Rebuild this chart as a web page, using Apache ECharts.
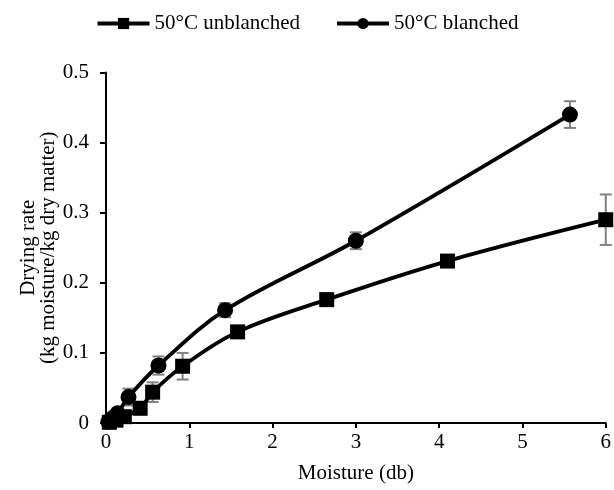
<!DOCTYPE html>
<html>
<head>
<meta charset="utf-8">
<script src="https://cdn.jsdelivr.net/npm/echarts@6/dist/echarts.min.js"></script>
<style>html,body{margin:0;padding:0;background:#fff}#c{width:614px;height:490px}</style>
</head>
<body>
<div id="c"></div>
<script>
var seriesNames = ['50°C unblanched', '50°C blanched'];
var unblX = [0.04, 0.12, 0.22, 0.41, 0.56, 0.92, 1.58, 2.65, 4.10, 6.00];
var unblY = [0.001, 0.004, 0.009, 0.021, 0.044, 0.081, 0.130, 0.176, 0.231, 0.290];
var unblErr = [0.001, 0.001, 0.002, 0.004, 0.014, 0.019, 0.004, 0.003, 0.004, 0.036];
var blX = [0.03, 0.08, 0.14, 0.27, 0.63, 1.43, 3.00, 5.57];
var blY = [0.002, 0.007, 0.014, 0.037, 0.082, 0.161, 0.260, 0.440];
var blErr = [0.001, 0.002, 0.002, 0.012, 0.013, 0.010, 0.012, 0.019];
var xTicks = [0, 1, 2, 3, 4, 5, 6];
var yTicks = [0, 0.1, 0.2, 0.3, 0.4, 0.5];

function pairs(xs, ys) { return xs.map(function (x, i) { return [x, ys[i]]; }); }
function errData(xs, ys, es) { return xs.map(function (x, i) { return [x, ys[i] - es[i], ys[i] + es[i]]; }); }

function errRender(params, api) {
  var x = api.value(0);
  var lo = api.coord([x, api.value(1)]);
  var hi = api.coord([x, api.value(2)]);
  var w = 6;
  var st = { stroke: '#808080', lineWidth: 2 };
  return {
    type: 'group',
    children: [
      { type: 'line', shape: { x1: lo[0], y1: lo[1], x2: hi[0], y2: hi[1] }, style: st },
      { type: 'line', shape: { x1: lo[0] - w, y1: lo[1], x2: lo[0] + w, y2: lo[1] }, style: st },
      { type: 'line', shape: { x1: hi[0] - w, y1: hi[1], x2: hi[0] + w, y2: hi[1] }, style: st }
    ]
  };
}

var font = 'Liberation Serif';
var chart = echarts.init(document.getElementById('c'));
chart.setOption({
  animation: false,
  legend: {
    data: seriesNames,
    top: 8,
    left: 'center',
    itemWidth: 52,
    itemHeight: 14,
    itemGap: 35,
    lineStyle: { width: 4, color: '#000' },
    textStyle: { fontFamily: font, fontSize: 21, color: '#000' }
  },
  grid: { left: 106, right: 7, top: 72.5, bottom: 67, containLabel: false },
  xAxis: {
    type: 'value', min: xTicks[0], max: xTicks[xTicks.length - 1], interval: 1,
    name: 'Moisture (db)', nameLocation: 'middle', nameGap: 40,
    nameTextStyle: { fontFamily: font, fontSize: 21, color: '#000' },
    axisLine: { lineStyle: { color: '#000', width: 2 } },
    axisTick: { show: true, length: 5, lineStyle: { color: '#000', width: 2 } },
    axisLabel: { fontFamily: font, fontSize: 21, color: '#000', margin: 9 },
    splitLine: { show: false }
  },
  yAxis: {
    type: 'value', min: yTicks[0], max: yTicks[yTicks.length - 1], interval: 0.1,
    name: 'Drying rate\n(kg moisture/kg dry matter)', nameLocation: 'middle', nameGap: 48,
    nameMoveOverlap: false,
    nameTextStyle: { fontFamily: font, fontSize: 21, color: '#000', lineHeight: 20 },
    axisLine: { show: true, lineStyle: { color: '#000', width: 2 } },
    axisTick: { show: true, length: 6, lineStyle: { color: '#000', width: 2 } },
    axisLabel: { fontFamily: font, fontSize: 21, color: '#000', margin: 17 },
    splitLine: { show: false }
  },
  series: [
    {
      name: 'err-unblanched', type: 'custom', renderItem: errRender,
      data: errData(unblX, unblY, unblErr), z: 1, silent: true,
      itemStyle: { color: '#808080' },
      encode: { x: 0, y: [1, 2] }
    },
    {
      name: 'err-blanched', type: 'custom', renderItem: errRender,
      data: errData(blX, blY, blErr), z: 1, silent: true,
      itemStyle: { color: '#808080' },
      encode: { x: 0, y: [1, 2] }
    },
    {
      name: seriesNames[0], type: 'line', data: pairs(unblX, unblY), smooth: 0.35,
      symbol: 'rect', symbolSize: 15, z: 3,
      lineStyle: { color: '#000', width: 3.8 }, itemStyle: { color: '#000' }
    },
    {
      name: seriesNames[1], type: 'line', data: pairs(blX, blY), smooth: 0.35,
      symbol: 'circle', symbolSize: 16, z: 3,
      lineStyle: { color: '#000', width: 3.8 }, itemStyle: { color: '#000' }
    }
  ]
});
</script>
</body>
</html>
